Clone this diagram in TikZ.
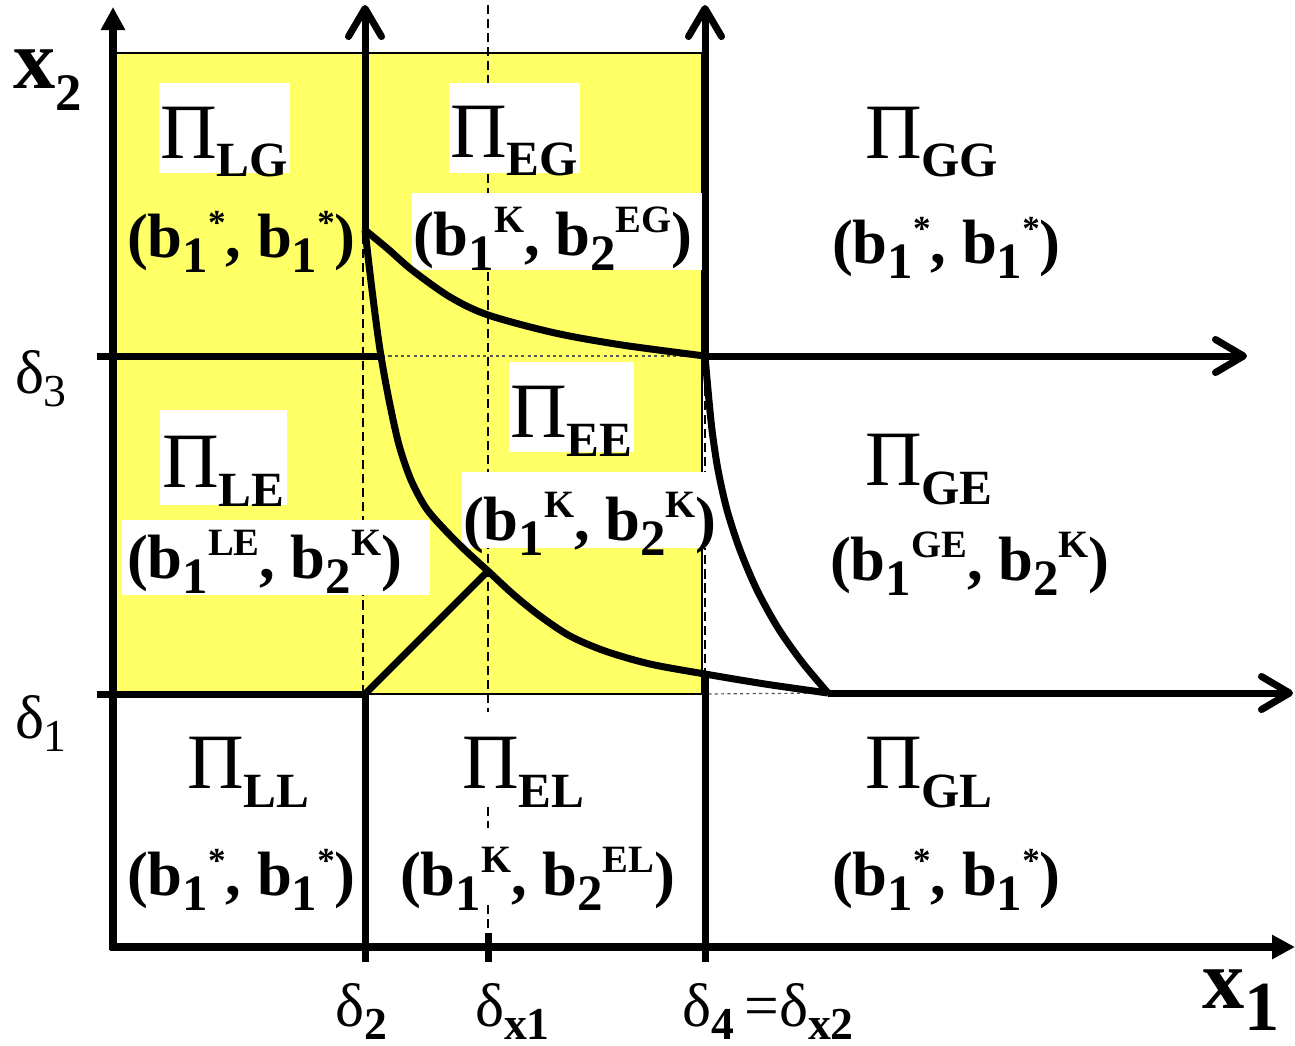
\documentclass[tikz,border=0pt]{standalone}
\usepackage{fontspec}
\setmainfont{Liberation Serif}
\usetikzlibrary{arrows.meta}
\definecolor{hiyellow}{RGB}{255,255,102}
\newcommand{\bsb}[1]{\raisebox{-4.5pt}{\fontsize{14.5}{14.5}\selectfont #1}}
\newcommand{\bsp}[1]{\raisebox{6.3pt}{\fontsize{11}{11}\selectfont #1}}
\newcommand{\bst}{\raisebox{6.3pt}{\fontsize{10}{10}\selectfont *}}
\newcommand{\bset}[1]{{\fontsize{17.8}{17.8}\selectfont\bfseries #1}}
\newcommand{\pilab}[1]{{\fontsize{22.3}{22.3}\selectfont Π}\raisebox{-5.4pt}{\fontsize{14}{14}\selectfont\bfseries #1}}
\newcommand{\dsym}{{\fontsize{17.5}{17.5}\selectfont δ}}
\newcommand{\dsb}[1]{\raisebox{-3.8pt}{\fontsize{13}{13}\selectfont #1}}
\begin{document}
\begin{tikzpicture}[x=0.01cm,y=-0.01cm,
  thk/.style={line width=0.07cm},
  axs/.style={line width=0.075cm},
  dsh/.style={line width=0.018cm,dash pattern=on 2.6pt off 1.4pt},
  dtt/.style={line width=0.012cm,black!65,dash pattern=on 0.9pt off 0.9pt},
  barb/.style={-{Straight Barb[length=0.28cm,width=0.33cm,round]}},
  tri/.style={-{Triangle[length=0.23cm,width=0.23cm]}},
  lbl/.style={anchor=base west,inner sep=0pt,outer sep=0pt}]
\useasboundingbox (0,0) rectangle (1295,1045);
% key points
\coordinate (A) at (365,230);
\coordinate (B) at (705,356);
\coordinate (C) at (488,571);
\coordinate (D) at (828,693);
\coordinate (E) at (365,694);
% yellow region
\fill[hiyellow] (113,53) rectangle (702,694);
\draw[line width=0.015cm] (113,53) rectangle (702,694);
% dashed and dotted guide lines
\draw[dsh] (363,694) -- (363,230);
\draw[dsh] (705,677) -- (705,356);
\draw[dsh] (488,5) -- (488,933);
\draw[dtt] (382,356) -- (B);
\draw[dtt] (702,694) -- (D);
% white label boxes
\fill[white] (159,83) rectangle (290,173);
\fill[white] (449,83) rectangle (580,173);
\fill[white] (412,193) rectangle (702,270);
\fill[white] (160,410) rectangle (287,505);
\fill[white] (122,520) rectangle (430,595);
\fill[white] (509,362) rectangle (634,452);
\fill[white] (462,472) rectangle (712,548);
\fill[white] (460,712) rectangle (588,803);
\fill[white] (398,828) rectangle (678,902);
% thick boundary lines
\draw[thk] (365,962) -- (E);
\draw[thk,barb] (A) -- (365,5);
\draw[thk] (705,962) -- (705,674);
\draw[thk,barb] (B) -- (705,5);
\draw[thk] (488,933) -- (488,962);
\draw[thk] (97,356) -- (382,356);
\draw[thk,barb] (B) -- (1247,356);
\draw[thk] (97,694) -- (E);
\draw[thk,barb] (D) -- (1293,693);
\draw[thk] (E) -- (C);
% curves
\draw[thk] plot[smooth] coordinates {(365,230) (388,249) (412,270) (450,297) (488,315) (555,333) (622,345) (705,356)};
\draw[thk] plot[smooth] coordinates {(365,230) (372,290) (380,350) (389,400) (399,445) (411,480) (426,508) (445,530) (466,551) (488,571) (514,595) (540,616) (570,636) (605,651) (650,664) (705,674) (765,684) (828,693)};
\draw[thk] plot[smooth] coordinates {(705,356) (708,390) (712,430) (718,470) (727,510) (740,550) (757,590) (778,628) (802,662) (828,693)};
% axes
\draw[axs,tri] (113,950) -- (113,7);
\draw[axs,tri] (110,947) -- (1295,947);
% region labels
\node[lbl] (piLG) at (160,158) {\pilab{LG}};
\node[lbl] (bLG) at (127,257) {\bset{(b\bsb{1}\bst, b\bsb{1}\bst)}};
\node[lbl] (piEG) at (450,157) {\pilab{EG}};
\node[lbl] (bEG) at (413,255) {\bset{(b\bsb{1}\bsp{K}, b\bsb{2}\bsp{EG})}};
\node[lbl] (piGG) at (865,158) {\pilab{GG}};
\node[lbl] (bGG) at (832,263) {\bset{(b\bsb{1}\bst, b\bsb{1}\bst)}};
\node[lbl] (piLE) at (162,487) {\pilab{LE}};
\node[lbl] (bLE) at (127,578) {\bset{(b\bsb{1}\bsp{LE}, b\bsb{2}\bsp{K})}};
\node[lbl] (piEE) at (510,437) {\pilab{EE}};
\node[lbl] (bEE) at (463,540) {\bset{(b\bsb{1}\bsp{K}, b\bsb{2}\bsp{K})}};
\node[lbl] (piGE) at (865,485) {\pilab{GE}};
\node[lbl] (bGE) at (830,580) {\bset{(b\bsb{1}\bsp{GE}, b\bsb{2}\bsp{K})}};
\node[lbl] (piLL) at (187,788) {\pilab{LL}};
\node[lbl] (bLL) at (127,895) {\bset{(b\bsb{1}\bst, b\bsb{1}\bst)}};
\node[lbl] (piEL) at (462,788) {\pilab{EL}};
\node[lbl] (bEL) at (400,895) {\bset{(b\bsb{1}\bsp{K}, b\bsb{2}\bsp{EL})}};
\node[lbl] (piGL) at (865,788) {\pilab{GL}};
\node[lbl] (bGL) at (832,895) {\bset{(b\bsb{1}\bst, b\bsb{1}\bst)}};
% axis labels
\node[lbl] (xtwo) at (13,88) {\bfseries{\fontsize{24}{24}\selectfont x}\raisebox{-6.3pt}{\fontsize{15}{15}\selectfont 2}};
\node[lbl] (xone) at (1202,1008) {\bfseries{\fontsize{24}{24}\selectfont x}\raisebox{-6.3pt}{\fontsize{20}{20}\selectfont 1}};
\node[lbl] (dthree) at (15,393) {\dsym\dsb{3}};
\node[lbl] (done) at (15,738) {\dsym\dsb{1}};
\node[lbl] (dtwo) at (335,1026) {\dsym\dsb{\bfseries 2}};
\node[lbl] (dxone) at (475,1026) {\dsym\dsb{\bfseries x1}};
\node[lbl] (dfour) at (682,1026) {\dsym\dsb{\bfseries 4}\hspace{3pt}{\fontsize{17.5}{17.5}\selectfont =}\dsym\dsb{\bfseries x2}};
\end{tikzpicture}
\end{document}
